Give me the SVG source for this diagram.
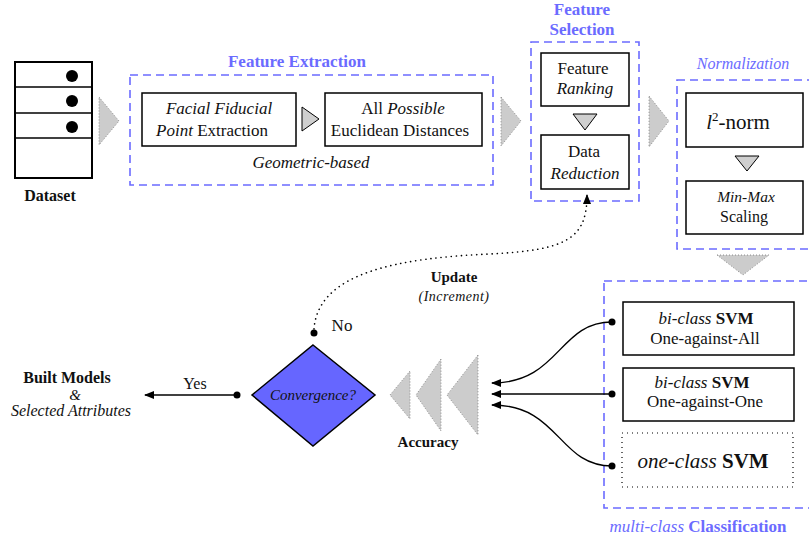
<svg xmlns="http://www.w3.org/2000/svg" width="809" height="540" viewBox="0 0 809 540" font-family="'Liberation Serif', 'Times New Roman', serif">
  <defs>
    <style>
      text { font-family: "Liberation Serif", "Times New Roman", serif; fill: #111; }
      .t17 { font-size: 17px; }
      .t16 { font-size: 16px; }
      .t15 { font-size: 15px; }
      .it { font-style: italic; }
      .b { font-weight: bold; }
      .blue { fill: #6b6bff; }
      .group { fill: none; stroke: #6b6bff; stroke-width: 1.6; stroke-dasharray: 8 5; }
      .box { fill: #fff; stroke: #000; stroke-width: 1.5; }
      .step { fill: #cfcfcf; stroke: #000; stroke-width: 1; }
      .flow { fill: #cccccc; stroke: #777; stroke-width: 0.8; stroke-dasharray: 1 2; }
      .wire { fill: none; stroke: #000; stroke-width: 1.4; }
    </style>
    <marker id="arr" viewBox="0 0 10 8" refX="9" refY="4" markerWidth="10" markerHeight="8" markerUnits="userSpaceOnUse" orient="auto">
      <path d="M0,0 L10,4 L0,8 z" fill="#000"/>
    </marker>
  </defs>

  <!-- Dataset -->
  <g id="dataset">
    <rect x="15" y="62" width="77" height="116" fill="#fff" stroke="#000" stroke-width="2"/>
    <line x1="15" y1="87" x2="92" y2="87" stroke="#000" stroke-width="1.6"/>
    <line x1="15" y1="113" x2="92" y2="113" stroke="#000" stroke-width="1.6"/>
    <line x1="15" y1="138" x2="92" y2="138" stroke="#000" stroke-width="1.6"/>
    <circle cx="72" cy="76" r="6" fill="#000"/>
    <circle cx="72" cy="101" r="6" fill="#000"/>
    <circle cx="72" cy="127" r="6" fill="#000"/>
    <text x="50" y="201" text-anchor="middle" class="t16 b">Dataset</text>
  </g>

  <!-- Stage-to-stage flow arrows -->
  <g id="flow-arrows">
    <polygon class="flow" points="99,97 119,121 99,145"/>
    <polygon class="flow" points="501,97 521,121 501,146"/>
    <polygon class="flow" points="649,96 669,121 649,147"/>
    <polygon class="flow" points="717,255 769,255 743,275"/>
  </g>

  <!-- Feature Extraction -->
  <g id="feature-extraction">
    <text x="297" y="67" text-anchor="middle" class="t17 b blue">Feature Extraction</text>
    <rect class="group" x="130" y="75" width="363" height="110"/>
    <rect class="box" x="142" y="93" width="154" height="53"/>
    <text x="219" y="114" text-anchor="middle" class="t17 it">Facial Fiducial</text>
    <text x="212" y="136" text-anchor="middle" class="t17"><tspan class="it">Point</tspan> Extraction</text>
    <polygon class="step" points="302,107 319,119 302,131"/>
    <rect class="box" x="325" y="93" width="157" height="53"/>
    <text x="403" y="114" text-anchor="middle" class="t17">All <tspan class="it">Possible</tspan></text>
    <text x="400" y="136" text-anchor="middle" class="t17">Euclidean Distances</text>
    <text x="311" y="168" text-anchor="middle" class="t17 it">Geometric-based</text>
  </g>

  <!-- Feature Selection -->
  <g id="feature-selection">
    <text x="582" y="15" text-anchor="middle" class="t17 b blue">Feature</text>
    <text x="582" y="35" text-anchor="middle" class="t17 b blue">Selection</text>
    <rect class="group" x="531" y="42" width="108" height="159"/>
    <rect class="box" x="541" y="53" width="88" height="53"/>
    <text x="583" y="74" text-anchor="middle" class="t17">Feature</text>
    <text x="585" y="94" text-anchor="middle" class="t17 it">Ranking</text>
    <polygon class="step" points="573,114 597,114 585,130"/>
    <rect class="box" x="541" y="135" width="88" height="54"/>
    <text x="584" y="157" text-anchor="middle" class="t17">Data</text>
    <text x="585" y="179" text-anchor="middle" class="t17 it">Reduction</text>
  </g>

  <!-- Normalization -->
  <g id="normalization">
    <text x="743" y="69" text-anchor="middle" class="t16 it blue">Normalization</text>
    <rect class="group" x="677" y="80" width="150" height="169"/>
    <rect class="box" x="686" y="93" width="117" height="54"/>
    <text x="738" y="129" text-anchor="middle" style="font-size:21px"><tspan class="it">l</tspan><tspan dy="-8" style="font-size:13px">2</tspan><tspan dy="8">-norm</tspan></text>
    <polygon class="step" points="735,156 759,156 747,171"/>
    <rect class="box" x="686" y="181" width="117" height="53"/>
    <text x="746" y="202" text-anchor="middle" class="it" style="font-size:15.5px">Min-Max</text>
    <text x="744" y="222" text-anchor="middle" style="font-size:16px">Scaling</text>
  </g>

  <!-- multi-class Classification -->
  <g id="classification">
    <rect class="group" x="604" y="281" width="220" height="227"/>
    <rect class="box" x="623" y="302" width="171" height="53"/>
    <text x="706" y="324" text-anchor="middle" class="t17"><tspan class="it">bi-class</tspan> <tspan class="b">SVM</tspan></text>
    <text x="705" y="344" text-anchor="middle" class="t17">One-against-All</text>
    <rect class="box" x="623" y="368" width="171" height="53"/>
    <text x="702" y="388" text-anchor="middle" class="t17"><tspan class="it">bi-class</tspan> <tspan class="b">SVM</tspan></text>
    <text x="705" y="407" text-anchor="middle" class="t17">One-against-One</text>
    <rect x="622" y="433" width="171" height="54" fill="#fff" stroke="#000" stroke-width="1.2" stroke-dasharray="1 4"/>
    <text x="703" y="468" text-anchor="middle" style="font-size:21px"><tspan class="it">one-class</tspan> <tspan class="b">SVM</tspan></text>
    <text x="698" y="532" text-anchor="middle" class="t17 blue"><tspan class="it">multi-class</tspan> <tspan class="b">Classification</tspan></text>
  </g>

  <!-- Accuracy -->
  <g id="accuracy">
    <polygon class="flow" points="410,371 390,395 410,419"/>
    <polygon class="flow" points="441,359 416,395 441,431"/>
    <polygon class="flow" points="478,355 447,395 478,435"/>
    <text x="428" y="447" text-anchor="middle" class="t15 b">Accuracy</text>
  </g>

  <!-- Convergence decision -->
  <g id="convergence">
    <polygon points="313,345 375,395 313,446 252,395" fill="#6666ff" stroke="#000" stroke-width="1.5"/>
    <text x="313" y="400" text-anchor="middle" class="t15 it">Convergence?</text>
  </g>

  <!-- Built Models -->
  <g id="built-models">
    <text x="67" y="383" text-anchor="middle" class="t16 b">Built Models</text>
    <text x="75" y="400" text-anchor="middle" class="t15 it">&amp;</text>
    <text x="71" y="416" text-anchor="middle" class="t16 it">Selected Attributes</text>
  </g>

  <!-- Connectors -->
  <g id="connectors">
    <path class="wire" d="M612,322 C558,322 560,383 492,383" marker-end="url(#arr)"/>
    <path class="wire" d="M612,394 L492,394" marker-end="url(#arr)"/>
    <path class="wire" d="M612,466 C558,466 560,405 492,405" marker-end="url(#arr)"/>
    <circle cx="612" cy="322" r="3.5" fill="#000"/>
    <circle cx="612" cy="394" r="3.5" fill="#000"/>
    <circle cx="612" cy="466" r="3.5" fill="#000"/>

    <path class="wire" d="M237,395 L145,395" marker-end="url(#arr)"/>
    <circle cx="237" cy="395" r="3.5" fill="#000"/>
    <text x="195" y="389" text-anchor="middle" class="t16">Yes</text>

    <path d="M314,329 C318,272 400,258 490,254 C565,250 587,240 587,195" fill="none" stroke="#000" stroke-width="1.6" stroke-dasharray="0.1 5" stroke-linecap="round" marker-end="url(#arr)"/>
    <circle cx="314" cy="333" r="3.5" fill="#000"/>
    <text x="342" y="331" text-anchor="middle" class="t17">No</text>
    <text x="454" y="282" text-anchor="middle" class="t15 b">Update</text>
    <text x="454" y="301" text-anchor="middle" class="it" style="font-size:14px;letter-spacing:0.5px">(Increment)</text>
  </g>
</svg>
